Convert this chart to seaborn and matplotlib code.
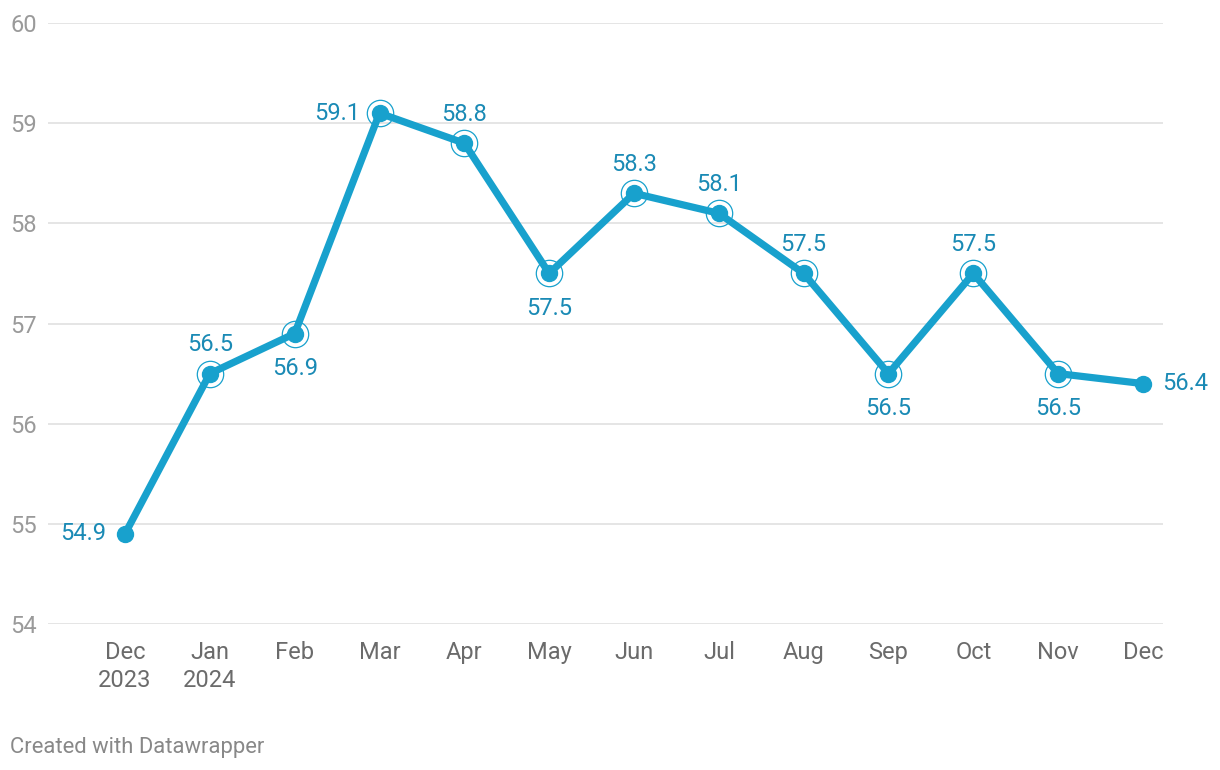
import matplotlib
matplotlib.use("Agg")
import matplotlib.pyplot as plt
import seaborn as sns
import pandas as pd

# data
months = ["Dec\n2023", "Jan\n2024", "Feb", "Mar", "Apr", "May", "Jun",
          "Jul", "Aug", "Sep", "Oct", "Nov", "Dec"]
values = [54.9, 56.5, 56.9, 59.1, 58.8, 57.5, 58.3, 58.1, 57.5, 56.5, 57.5, 56.5, 56.4]
label_pos = ["left", "above", "below", "left", "above", "below", "above",
             "above", "above", "below", "above", "below", "right"]
ringed = [False] + [True] * 11 + [False]
y_ticks = [54, 55, 56, 57, 58, 59, 60]

LINE = "#18a1cd"
LABEL = "#1a8ab5"
FS = 17

df = pd.DataFrame({"idx": range(len(months)), "value": values})

sns.set_theme(style="white")
plt.rcParams["font.family"] = ["Roboto", "DejaVu Sans"]

fig = plt.figure(figsize=(12.2, 7.7), dpi=100)
ax = fig.add_axes([48 / 1220, 1 - 624 / 770, (1163 - 48) / 1220, (624 - 23) / 770])

for y in y_ticks:
    ax.axhline(y, color="#e3e3e3", lw=1.3, zorder=0)

sns.lineplot(data=df, x="idx", y="value", color=LINE, lw=5.2, ax=ax, zorder=2)
ax.plot(df["idx"], df["value"], "o", color=LINE, ms=11.5, zorder=3)
ring = df[ringed]
ax.plot(ring["idx"], ring["value"], "o", mfc="none", mec=LINE, mew=0.9, ms=19, zorder=3)

px = 0.72
for i, (v, pos) in enumerate(zip(values, label_pos)):
    txt = f"{v:.1f}"
    if pos == "above":
        off, ha, va = (0, 29 * px), "center", "center"
    elif pos == "below":
        off, ha, va = (0, -35 * px), "center", "center"
    elif pos == "left":
        off, ha, va = (-19 * px, 0), "right", "center"
    else:
        off, ha, va = (19 * px, 0), "left", "center"
    ax.annotate(txt, (i, v), xytext=off, textcoords="offset points",
                ha=ha, va=va, color=LABEL, fontsize=FS, zorder=4)

ax.set_xlim(-0.908, 12.236)
ax.set_ylim(54, 60)
ax.set_xticks(range(len(months)))
ax.set_xticklabels(months, color="#6b6b6b", fontsize=FS, linespacing=1.3)
ax.set_yticks(y_ticks)
ax.set_yticklabels([str(y) for y in y_ticks], color="#9a9a9a", fontsize=FS)
ax.tick_params(axis="x", length=0, pad=12)
ax.tick_params(axis="y", length=0, pad=8)
ax.set_xlabel("")
ax.set_ylabel("")
sns.despine(ax=ax, left=True, bottom=True, top=True, right=True)

fig.text(10 / 1220, 1 - 747 / 770, "Created with Datawrapper", color="#888888",
         fontsize=15.8, ha="left", va="center")

fig.savefig("out.png", dpi=100)
